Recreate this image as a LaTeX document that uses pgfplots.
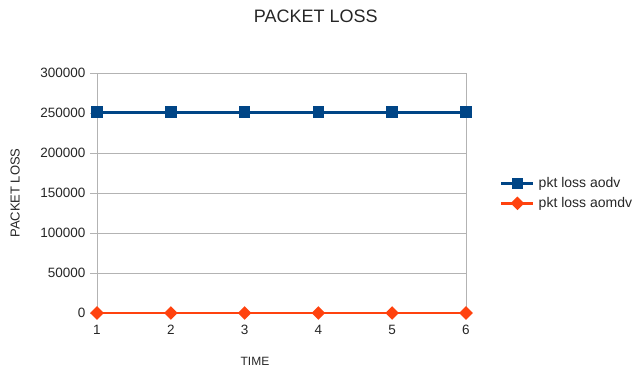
\documentclass[border=0pt]{standalone}
\usepackage{pgfplots}
\pgfplotsset{compat=1.18}
\usepackage{fontspec}
\setmainfont{Liberation Sans}
\definecolor{lblue}{HTML}{004586}
\definecolor{lorange}{HTML}{FF420E}
\definecolor{lgrid}{HTML}{B3B3B3}
\begin{document}
\begin{tikzpicture}[x=1bp,y=1bp]
\path[use as bounding box] (-97,-54) rectangle (538,313);
\begin{axis}[
  at={(0,0)}, anchor=origin,
  scale only axis, width=369bp, height=240bp,
  xmin=1, xmax=6, ymin=0, ymax=300000,
  xtick={1,2,3,4,5,6},
  ytick={0,50000,100000,150000,200000,250000,300000},
  scaled y ticks=false,
  /pgf/number format/assume math mode=true,
  yticklabel style={/pgf/number format/fixed,/pgf/number format/1000 sep={}},
  ymajorgrids, major grid style={lgrid, line width=0.8bp},
  axis line style={lgrid, line width=0.8bp},
  major tick length=7bp,
  ytick style={lgrid, line width=0.8bp},
  ytick pos=left, tick align=outside,
  xtick style={draw=none},
  xticklabel style={yshift=-2bp},
  yticklabel style={xshift=-1bp},
  tick label style={font=\fontsize{13.5bp}{15bp}\selectfont, text=black!85},
  title={PACKET LOSS},
  title style={at={(axis description cs:0.593,1.2125)}, anchor=center, font=\fontsize{18bp}{20bp}\selectfont, text=black!85},
  ylabel={PACKET LOSS},
  ylabel style={at={(axis description cs:-0.222,0.5)}, anchor=center, font=\fontsize{13bp}{15bp}\selectfont, text=black!85},
  xlabel={TIME},
  xlabel style={at={(axis description cs:0.428,-0.2)}, anchor=center, font=\fontsize{12bp}{14bp}\selectfont, text=black!85},
  legend style={at={(axis description cs:1.092,0.498)}, anchor=west, draw=none, fill=none,
    font=\fontsize{14bp}{16bp}\selectfont, text=black!85, row sep=4bp, inner sep=0pt,
    nodes={inner xsep=4bp}},
  legend cell align=left,
  legend image code/.code={
    \draw[#1, mark repeat=2, mark phase=2] plot coordinates {(0bp,0bp) (16bp,0bp) (32bp,0bp)};
  },
  clip=false,
]
\addplot[lblue, line width=2.6bp, mark=square*, mark size=4.5bp, mark options={solid}] coordinates {
  (1,251000) (2,251000) (3,251000) (4,251000) (5,251000) (6,251000)};
\addlegendentry{pkt loss aodv}
\addplot[lorange, line width=2.6bp, mark=square*, mark size=3.5bp, mark options={solid, rotate=45}] coordinates {
  (1,0) (2,0) (3,0) (4,0) (5,0) (6,0)};
\addlegendentry{pkt loss aomdv}
\end{axis}
\end{tikzpicture}
\end{document}
